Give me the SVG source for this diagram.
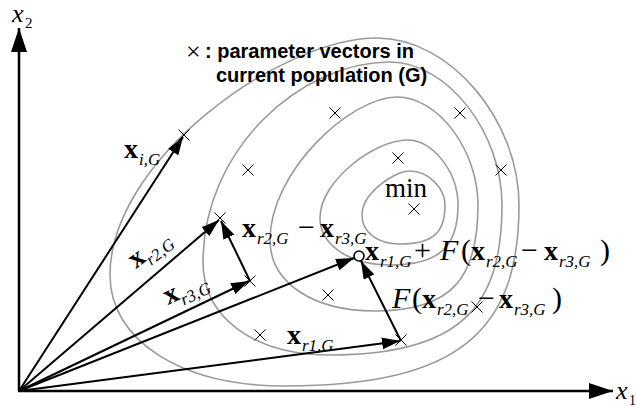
<svg xmlns="http://www.w3.org/2000/svg" width="637" height="407" viewBox="0 0 637 407">
<style>
.contour{fill:none;stroke:#9a9a9a;stroke-width:1.6}
.vec{stroke:#000;stroke-width:2;fill:none;marker-end:url(#ah)}
.axis{stroke:#000;stroke-width:2.5;fill:none;marker-end:url(#axh)}
.cross{stroke:#000;stroke-width:1;fill:none}
.b{font-family:"Liberation Serif",serif;font-weight:bold;font-size:28px;fill:#000}
.s{font-family:"Liberation Serif",serif;font-style:italic;font-size:17px;fill:#000}
.r{font-family:"Liberation Serif",serif;font-size:30px;fill:#000}
.i{font-family:"Liberation Serif",serif;font-style:italic;font-size:30px;fill:#000}
.leg{font-family:"Liberation Sans",Arial,sans-serif;font-weight:bold;font-size:20px;fill:#000}
</style>
<defs>
<marker id="ah" viewBox="0 0 18 12" refX="18" refY="6" markerWidth="18" markerHeight="12" markerUnits="userSpaceOnUse" orient="auto"><path d="M0,0 L18,6 L0,12 Z" fill="#000"/></marker>
<marker id="axh" viewBox="0 0 24 16" refX="24" refY="8" markerWidth="24" markerHeight="16" markerUnits="userSpaceOnUse" orient="auto"><path d="M0,0 L24,8 L0,16 Z" fill="#000"/></marker>
<path id="x" d="M-5.5,-5.5 L5.5,5.5 M-5.5,5.5 L5.5,-5.5"/>
</defs>

<g id="contours">
<path class="contour" d="M110,275 C110,160 280,38 377,38 C450,38 519,120 519,205 C519,330 460,386 285,386 C180,386 110,340 110,275 Z"/>
<path class="contour" d="M203,262 C203,150 300,62 390,62 C447,62 502,132 502,205 C502,308 459,355 330,355 C253,355 203,317 203,262 Z"/>
<path class="contour" d="M270,240 C270,171 351,97 397,97 C438,97 478,150 478,205 C478,278 452,311 375,311 C312,311 270,282 270,240 Z"/>
<path class="contour" d="M320,218 C320,180 376,140 407,140 C433,140 458,172 458,205 C458,246 440,265 390,265 C350,265 320,245 320,218 Z"/>
<path class="contour" d="M362,215 C362,194 393,171 410,171 C428,171 445,188 445,205 C445,232 434,244 400,244 C377,244 362,232 362,215 Z"/>
</g>

<g id="axes">
<line class="axis" x1="19" y1="391" x2="19" y2="28"/>
<line class="axis" x1="18" y1="391" x2="613" y2="391"/>
<text class="i" x="12" y="22" style="font-size:26px">x</text><text x="25" y="28" style="font-family:'Liberation Serif',serif;font-size:15px">2</text>
<text class="i" x="616" y="399" style="font-size:26px">x</text><text x="629" y="405" style="font-family:'Liberation Serif',serif;font-size:14px">1</text>
</g>

<g id="population" class="cross">
<use href="#x" x="184" y="135"/>
<use href="#x" x="248" y="170"/>
<use href="#x" x="335" y="113"/>
<use href="#x" x="460" y="113"/>
<use href="#x" x="398" y="158"/>
<use href="#x" x="501" y="170"/>
<use href="#x" x="414" y="209"/>
<use href="#x" x="220" y="218"/>
<use href="#x" x="250" y="281"/>
<use href="#x" x="328" y="295"/>
<use href="#x" x="260" y="335"/>
<use href="#x" x="401" y="340"/>
<use href="#x" x="477" y="307"/>
</g>

<g id="connectors">
<line class="vec" x1="19" y1="391" x2="183" y2="137"/>
<line class="vec" x1="19" y1="391" x2="219" y2="220"/>
<line class="vec" x1="19" y1="391" x2="249" y2="281"/>
<line class="vec" x1="19" y1="391" x2="354" y2="258"/>
<line class="vec" x1="19" y1="391" x2="400" y2="341"/>
<line class="vec" x1="250" y1="281" x2="221" y2="221"/>
<line class="vec" x1="401" y1="341" x2="361" y2="261"/>
</g>

<g id="trial">
<circle cx="359" cy="256" r="5" fill="#fff" stroke="#000" stroke-width="1.6"/>
</g>

<g id="legend">
<text x="186" y="60" style="font-family:'Liberation Serif',serif;font-size:26px">×</text>
<text class="leg" x="205" y="58">: parameter vectors in</text>
<text class="leg" x="216" y="82">current population (G)</text>
</g>

<g id="labels">
<text class="r" x="385" y="197" style="font-size:27px">min</text>

<text class="b" x="124" y="158">x</text><text class="s" x="139" y="165">i,G</text>

<g transform="translate(136,269) rotate(-38)"><text class="b" x="0" y="0">x</text><text class="s" x="14" y="7">r2,G</text></g>
<g transform="translate(168,305) rotate(-25)"><text class="b" x="0" y="0">x</text><text class="s" x="14" y="7">r3,G</text></g>

<text class="b" x="287" y="344">x</text><text class="s" x="302" y="351">r1,G</text>

<text class="b" x="242" y="237">x</text><text class="s" x="257" y="244">r2,G</text>
<text class="r" x="298" y="237">−</text>
<text class="b" x="320" y="237">x</text><text class="s" x="335" y="244">r3,G</text>

<text class="b" x="365" y="260">x</text><text class="s" x="380" y="267">r1,G</text>
<text class="r" x="414" y="260">+</text>
<text class="i" x="440" y="260">F</text>
<text class="r" x="461" y="260">(</text>
<text class="b" x="471" y="260">x</text><text class="s" x="486" y="267">r2,G</text>
<text class="r" x="521" y="260">−</text>
<text class="b" x="544" y="260">x</text><text class="s" x="559" y="267">r3,G</text>
<text class="r" x="600" y="260">)</text>

<text class="i" x="392" y="308">F</text>
<text class="r" x="412" y="308">(</text>
<text class="b" x="422" y="308">x</text><text class="s" x="437" y="315">r2,G</text>
<text class="r" x="478" y="308">−</text>
<text class="b" x="499" y="308">x</text><text class="s" x="514" y="315">r3,G</text>
<text class="r" x="552" y="308">)</text>
</g>
</svg>
